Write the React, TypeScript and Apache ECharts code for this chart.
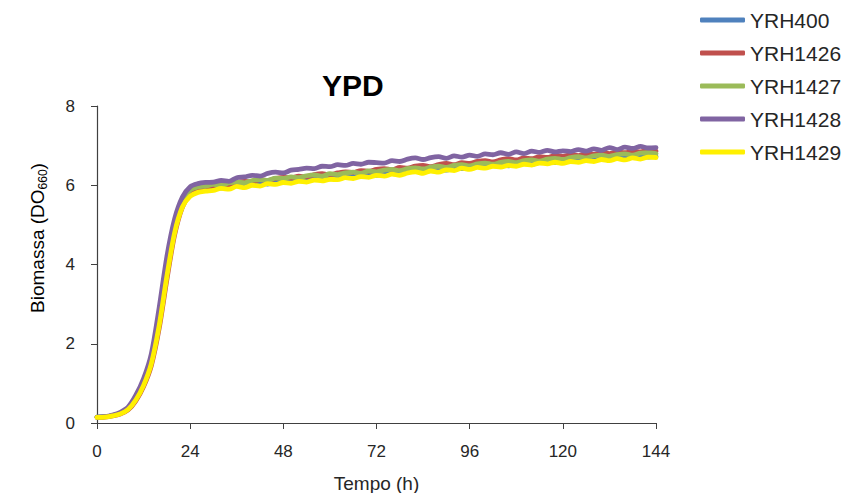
import React, { useEffect, useRef } from "react";
import * as echarts from "echarts";

const hours = [
  0, 2, 4, 6, 8, 10, 12, 14, 16, 18, 20, 22, 24, 26, 28, 30, 32, 34, 36, 38, 40, 42, 44, 46, 48,
  50, 52, 54, 56, 58, 60, 62, 64, 66, 68, 70, 72, 74, 76, 78, 80, 82, 84, 86, 88, 90, 92, 94, 96,
  98, 100, 102, 104, 106, 108, 110, 112, 114, 116, 118, 120, 122, 124, 126, 128, 130, 132, 134,
  136, 138, 140, 142, 144,
];

const seriesNames = ["YRH400", "YRH1426", "YRH1427", "YRH1428", "YRH1429"];
const seriesColors = ["#4F81BD", "#C0504D", "#9BBB59", "#8064A2", "#FFF000"];

const yrh400 = [
  0.15, 0.16, 0.19, 0.25, 0.36, 0.62, 1.0, 1.58, 2.6, 3.9, 4.95, 5.55, 5.82, 5.9,
  5.92, 5.95, 5.93, 5.99, 6.01, 5.98, 6.04, 6.06, 6.03, 6.09, 6.11, 6.08, 6.14, 6.12, 6.17, 6.19,
  6.16, 6.21, 6.23, 6.2, 6.26, 6.28, 6.25, 6.3, 6.32, 6.29, 6.35, 6.37, 6.34, 6.39, 6.41, 6.38,
  6.44, 6.42, 6.46, 6.48, 6.45, 6.5, 6.52, 6.49, 6.54, 6.56, 6.53, 6.58, 6.6, 6.57, 6.62, 6.64,
  6.61, 6.66, 6.68, 6.65, 6.69, 6.71, 6.68, 6.72, 6.74, 6.71, 6.73,
];
const yrh1426 = [
  0.14, 0.15, 0.18, 0.23, 0.33, 0.56, 0.92, 1.45, 2.38, 3.62, 4.75, 5.45, 5.78, 5.9,
  5.95, 5.99, 6.03, 6.01, 6.07, 6.1, 6.08, 6.14, 6.12, 6.17, 6.2, 6.18, 6.23, 6.21, 6.27, 6.29,
  6.26, 6.31, 6.34, 6.32, 6.37, 6.35, 6.4, 6.42, 6.39, 6.45, 6.43, 6.48, 6.5, 6.47, 6.52, 6.55,
  6.52, 6.57, 6.55, 6.6, 6.62, 6.59, 6.64, 6.67, 6.64, 6.69, 6.67, 6.72, 6.7, 6.75, 6.73, 6.77,
  6.75, 6.8, 6.78, 6.82, 6.8, 6.84, 6.82, 6.86, 6.84, 6.88, 6.86,
];
const yrh1427 = [
  0.15, 0.16, 0.19, 0.25, 0.37, 0.64, 1.03, 1.62, 2.65, 3.95, 5.0, 5.6, 5.88, 5.96,
  5.98, 6.02, 6.0, 6.06, 6.08, 6.06, 6.12, 6.14, 6.12, 6.18, 6.17, 6.21, 6.19, 6.24, 6.26, 6.23,
  6.29, 6.27, 6.31, 6.33, 6.3, 6.36, 6.34, 6.38, 6.4, 6.37, 6.42, 6.44, 6.41, 6.46, 6.48, 6.45,
  6.5, 6.52, 6.49, 6.54, 6.56, 6.53, 6.58, 6.6, 6.57, 6.62, 6.64, 6.61, 6.66, 6.68, 6.65, 6.7,
  6.72, 6.69, 6.74, 6.76, 6.73, 6.77, 6.79, 6.76, 6.81, 6.82, 6.8,
];
const yrh1428 = [
  0.15, 0.16, 0.2, 0.27, 0.4, 0.7, 1.12, 1.75, 2.9, 4.2, 5.15, 5.7, 5.96, 6.04,
  6.07, 6.08, 6.12, 6.1, 6.19, 6.21, 6.25, 6.23, 6.3, 6.33, 6.31, 6.38, 6.4, 6.43, 6.42, 6.48,
  6.47, 6.52, 6.5, 6.55, 6.53, 6.58, 6.57, 6.56, 6.62, 6.6, 6.66, 6.69, 6.65, 6.7, 6.72, 6.68,
  6.74, 6.71, 6.76, 6.73, 6.79, 6.77, 6.82, 6.78, 6.84, 6.8, 6.86, 6.83, 6.88, 6.84, 6.87, 6.85,
  6.9, 6.86, 6.92, 6.88, 6.95, 6.9, 6.96, 6.93, 6.98, 6.94, 6.95,
];
const yrh1429 = [
  0.14, 0.15, 0.18, 0.23, 0.34, 0.58, 0.95, 1.5, 2.45, 3.7, 4.8, 5.45, 5.72, 5.82,
  5.85, 5.87, 5.92, 5.9, 5.97, 5.94, 6.0, 5.98, 6.04, 6.02, 6.07, 6.05, 6.1, 6.08, 6.13, 6.11,
  6.15, 6.14, 6.19, 6.17, 6.22, 6.2, 6.25, 6.23, 6.28, 6.25, 6.31, 6.34, 6.3, 6.36, 6.33, 6.39,
  6.37, 6.43, 6.4, 6.45, 6.43, 6.48, 6.46, 6.5, 6.48, 6.53, 6.51, 6.56, 6.54, 6.58, 6.55, 6.6,
  6.58, 6.62, 6.6, 6.65, 6.62, 6.67, 6.64, 6.69, 6.66, 6.71, 6.7,
];

const seriesValues = [yrh400, yrh1426, yrh1427, yrh1428, yrh1429];

const xTicks = [0, 24, 48, 72, 96, 120, 144];
const yTicks = [0, 2, 4, 6, 8];

const FONT = "'Liberation Sans', Arial, sans-serif";
const AXIS_COLOR = "#404040";

export default function App() {
  const ref = useRef<HTMLDivElement>(null);

  useEffect(() => {
    if (!ref.current) return;
    const chart = echarts.init(ref.current, null, { renderer: "svg" });
    chart.setOption({
      animation: false,
      backgroundColor: "#ffffff",
      textStyle: { fontFamily: FONT },
      title: {
        text: "YPD",
        left: 322,
        top: 70,
        padding: 0,
        textStyle: { fontFamily: FONT, fontSize: 30, fontWeight: "bold", color: "#000000" },
      },
      legend: {
        orient: "vertical",
        left: 700,
        top: 8,
        padding: 0,
        itemWidth: 45,
        itemHeight: 5,
        itemGap: 9,
        icon: "roundRect",
        data: seriesNames,
        textStyle: { fontFamily: FONT, fontSize: 21, color: "#262626", lineHeight: 24 },
      },
      grid: { left: 97, right: 197, top: 106, bottom: 78, containLabel: false },
      xAxis: {
        type: "value",
        min: xTicks[0],
        max: xTicks[xTicks.length - 1],
        interval: 24,
        name: "Tempo (h)",
        nameLocation: "middle",
        nameGap: 51,
        nameTextStyle: { fontFamily: FONT, fontSize: 19, color: "#262626" },
        axisLine: { show: true, lineStyle: { color: AXIS_COLOR, width: 1.2 } },
        axisTick: { show: true, length: 6, lineStyle: { color: AXIS_COLOR } },
        axisLabel: { margin: 20, fontSize: 17, color: "#262626", fontFamily: FONT },
        splitLine: { show: false },
      },
      yAxis: {
        type: "value",
        min: yTicks[0],
        max: yTicks[yTicks.length - 1],
        interval: 2,
        axisLine: { show: true, lineStyle: { color: AXIS_COLOR, width: 1.2 } },
        axisTick: { show: true, length: 6, lineStyle: { color: AXIS_COLOR } },
        axisLabel: { margin: 22, fontSize: 17, color: "#262626", fontFamily: FONT },
        splitLine: { show: false },
      },
      graphic: [
        {
          type: "text",
          x: 37,
          y: 238,
          rotation: Math.PI / 2,
          style: {
            text: "{a|Biomassa (DO}{b|660}{a|)}",
            align: "center",
            verticalAlign: "middle",
            rich: {
              a: { fontFamily: FONT, fontSize: 19, color: "#262626", lineHeight: 24 },
              b: {
                fontFamily: FONT,
                fontSize: 12,
                color: "#262626",
                lineHeight: 24,
                verticalAlign: "bottom",
                padding: [8, 0, 0, 0],
              },
            },
          },
        },
      ],
      series: seriesNames.map((name, i) => ({
        name,
        type: "line",
        data: hours.map((h, k) => [h, seriesValues[i][k]]),
        showSymbol: false,
        symbol: "none",
        smooth: 0.3,
        lineStyle: { color: seriesColors[i], width: 4.8, cap: "round", join: "round" },
        itemStyle: { color: seriesColors[i] },
        z: 2 + i,
      })),
    });
    return () => chart.dispose();
  }, []);

  return <div ref={ref} style={{ width: 853, height: 501, margin: -8 }} />;
}
